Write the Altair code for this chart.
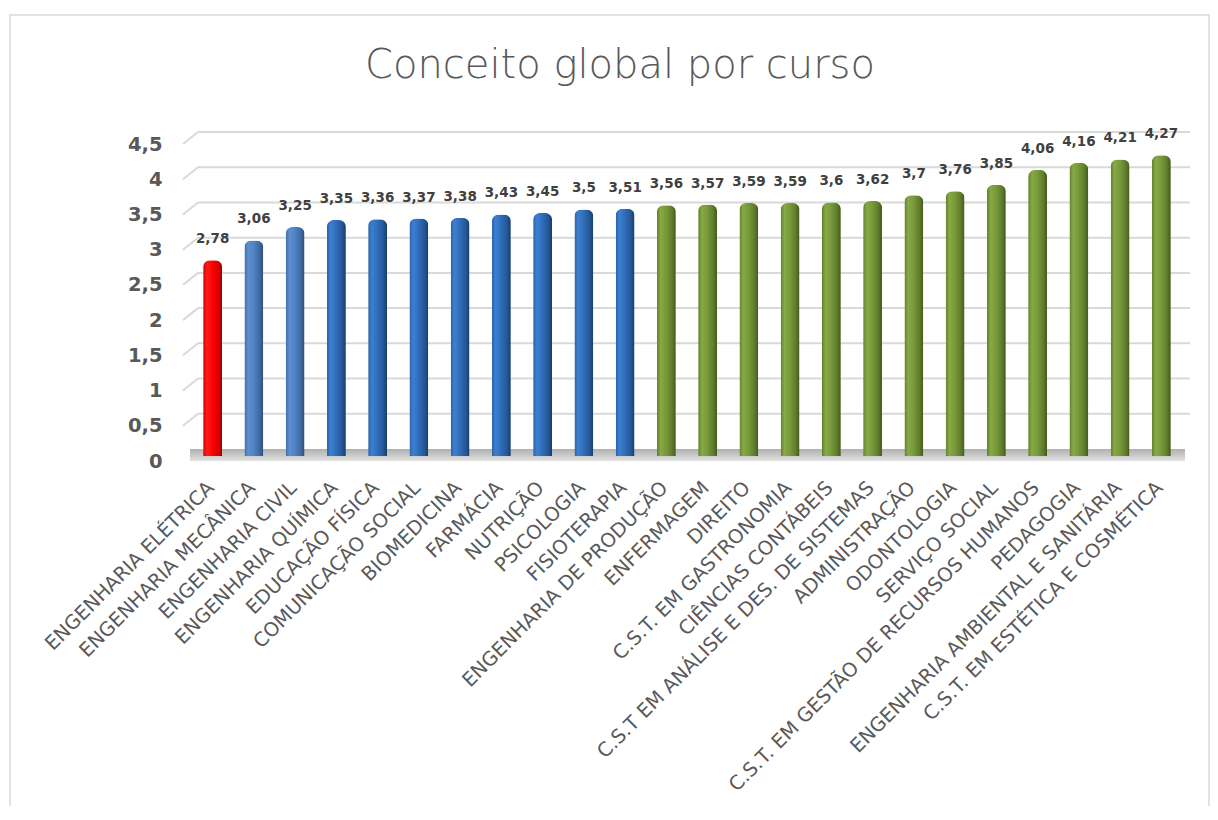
import altair as alt
import pandas as pd

cursos = [
    "ENGENHARIA ELÉTRICA", "ENGENHARIA MECÂNICA", "ENGENHARIA CIVIL",
    "ENGENHARIA QUÍMICA", "EDUCAÇÃO FÍSICA", "COMUNICAÇÃO SOCIAL",
    "BIOMEDICINA", "FARMÁCIA", "NUTRIÇÃO", "PSICOLOGIA", "FISIOTERAPIA",
    "ENGENHARIA DE PRODUÇÃO", "ENFERMAGEM", "DIREITO",
    "C.S.T. EM GASTRONOMIA", "CIÊNCIAS CONTÁBEIS",
    "C.S.T EM ANÁLISE E DES. DE SISTEMAS", "ADMINISTRAÇÃO", "ODONTOLOGIA",
    "SERVIÇO SOCIAL", "C.S.T. EM GESTÃO DE RECURSOS HUMANOS", "PEDAGOGIA",
    "ENGENHARIA AMBIENTAL E SANITÁRIA", "C.S.T. EM ESTÉTICA E COSMÉTICA",
]
conceitos = [2.78, 3.06, 3.25, 3.35, 3.36, 3.37, 3.38, 3.43, 3.45, 3.5, 3.51,
             3.56, 3.57, 3.59, 3.59, 3.6, 3.62, 3.7, 3.76, 3.85, 4.06, 4.16,
             4.21, 4.27]
grupos = ["vermelho", "azul_claro", "azul_claro"] + ["azul"] * 8 + ["verde"] * 13
y_ticks = [0, 0.5, 1, 1.5, 2, 2.5, 3, 3.5, 4, 4.5]

df = pd.DataFrame({
    "curso": cursos,
    "conceito": conceitos,
    "grupo": grupos,
    "rotulo": [str(v).replace(".", ",") for v in conceitos],
})
grid_df = pd.DataFrame({"conceito": [t for t in y_ticks if t > 0]})
floor_df = pd.DataFrame({"conceito": [0]})
one_df = pd.DataFrame({"k": [0]})

def grad(stops, vertical=False):
    return alt.LinearGradient(
        gradient="linear", x1=0, x2=0 if vertical else 1, y1=0, y2=1 if vertical else 0,
        stops=[alt.GradientStop(color=c, offset=o) for o, c in stops],
    )

fills = {
    "vermelho": grad([(0, "#d00000"), (0.2, "#ff1a1a"), (0.5, "#ff0000"), (0.8, "#d80000"), (1, "#9a0000")]),
    "azul_claro": grad([(0, "#3f6ea8"), (0.2, "#5b8fcf"), (0.5, "#4f82c0"), (0.8, "#3f6aa0"), (1, "#2c4c78")]),
    "azul": grad([(0, "#2a62a8"), (0.2, "#3c80d0"), (0.5, "#2f6cb8"), (0.8, "#245895"), (1, "#183c68")]),
    "verde": grad([(0, "#627f2c"), (0.2, "#86aa45"), (0.5, "#77983a"), (0.8, "#5f7c2c"), (1, "#43581c")]),
}

y_scale = alt.Scale(domain=[0, 4.5], nice=False, zero=True)
y_axis = alt.Axis(
    values=y_ticks,
    labelExpr="replace(toString(datum.value), '.', ',')",
    labelFont="DejaVu Sans", labelFontWeight="bold", labelFontSize=19.5,
    labelColor="#595959", labelPadding=30, labelOffset=5,
    labelOverlap=False, ticks=False, domain=False, grid=False,
)
x_enc = alt.X(
    "curso:N", sort=None, title=None,
    scale=alt.Scale(paddingInner=0.54, paddingOuter=0.27),
    axis=alt.Axis(
        labelAngle=-45, labelFont="DejaVu Sans", labelFontSize=19.5,
        labelColor="#595959", labelPadding=22, labelOffset=-8, labelLimit=700,
        labelOverlap=False, ticks=False, domain=False, grid=False,
    ),
)
y_enc = alt.Y("conceito:Q", title=None, scale=y_scale, axis=y_axis)

grid_h = alt.Chart(grid_df).mark_rule(color="#d9d9d9", strokeWidth=2, yOffset=-7).encode(
    y=y_enc, x=alt.value(6), x2=alt.value(998)
)
grid_d = alt.Chart(grid_df).mark_rule(
    color="#d9d9d9", strokeWidth=2, yOffset=5, y2Offset=-7
).encode(y=y_enc, y2="conceito:Q", x=alt.value(-9), x2=alt.value(6))

floor = alt.Chart(floor_df).mark_rect(
    color=grad([(0, "#b0b0b0"), (0.5, "#c8c8c8"), (1, "#e4e4e4")], vertical=True),
    yOffset=-7, y2Offset=5,
).encode(y=y_enc, y2="conceito:Q", x=alt.value(-2), x2=alt.value(993))

base = alt.Chart(df)
bar_layers = [
    base.transform_filter(alt.datum.grupo == g).mark_bar(
        color=fills[g], cornerRadiusTopLeft=7, cornerRadiusTopRight=7
    ).encode(x=x_enc, y=y_enc)
    for g in ["vermelho", "azul_claro", "azul", "verde"]
]

labels = base.mark_text(
    font="DejaVu Sans", fontWeight="bold", fontSize=13.5, color="#404040",
    baseline="middle", dy=-21,
).encode(x=x_enc, y=y_enc, text="rotulo:N")

frame = alt.Chart(one_df).mark_rect(
    fill=None, stroke="#d9d9d9", strokeWidth=1.5
).encode(x=alt.value(-182), x2=alt.value(1017), y=alt.value(-124), y2=alt.value(720))

titulo = alt.Chart(one_df).mark_text(
    text="Conceito global por curso", font="DejaVu Sans", fontSize=40,
    fontWeight=300, color="#595959", align="center", baseline="alphabetic",
).encode(x=alt.value(428), y=alt.value(-61))

chart = alt.layer(grid_h, frame, titulo, grid_d, floor, *bar_layers, labels).properties(
    width=990, height=317,
    background="white",
    autosize=alt.AutoSizeParams(type="none"),
    padding={"left": 184, "top": 131, "right": 28, "bottom": 350},
).configure_view(stroke=None)

chart.save("out.html", embed_options={"renderer": "svg", "actions": False})
